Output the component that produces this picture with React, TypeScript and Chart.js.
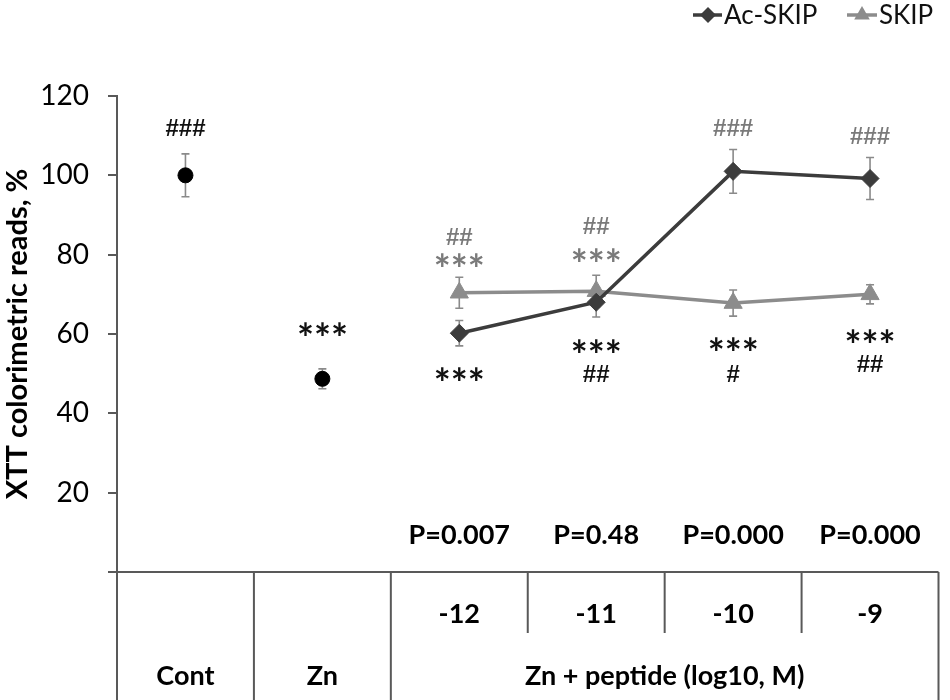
import React, { useEffect, useRef } from 'react';
import { Chart, registerables } from 'chart.js';

Chart.register(...registerables);

// ---------- data ----------
const categories = ['Cont', 'Zn', '-12', '-11', '-10', '-9'];
const subLabels = ['', '', '-12', '-11', '-10', '-9'];
const groupLabels = ['Cont', 'Zn', 'Zn + peptide (log10, M)'];
const groupSpans = [1, 1, 4];

const controlValues = [100, 48.7, null, null, null, null];
const controlErrors = [5.4, 2.5, 0, 0, 0, 0];
const acSkipValues = [null, null, 60.2, 68.0, 101.0, 99.2];
const acSkipErrors = [0, 0, 3.2, 3.7, 5.5, 5.3];
const skipValues = [null, null, 70.4, 70.8, 67.8, 70.0];
const skipErrors = [0, 0, 3.9, 4.0, 3.3, 2.4];

const pValues = ['', '', 'P=0.007', 'P=0.48', 'P=0.000', 'P=0.000'];
const pValueLevel = 9.3;

// significance marks: category index, y level, text, tone
const markCats = [0, 1, 2, 2, 2, 3, 3, 3, 3, 4, 4, 4, 5, 5, 5];
const markLevels = [112, 60.8, 84.6, 78.2, 49.4, 87.5, 79.4, 56.5, 50.2, 112, 57.0, 50.2, 110, 59.1, 52.5];
const markTexts = ['###', '***', '##', '***', '***', '##', '***', '***', '##', '###', '***', '#', '###', '***', '##'];
const markTones = ['k', 'k', 'g', 'g', 'k', 'g', 'g', 'k', 'k', 'g', 'k', 'k', 'g', 'k', 'k'];

const legendLabels = ['Ac-SKIP', 'SKIP'];
const yTitle = 'XTT colorimetric reads, %';

// ---------- styles ----------
const DARK = '#3c3c3c';
const GRAY = '#8c8c8c';
const AXIS = '#595959';
const ERR = '#8a8a8a';
const FONT = 'Lato, "Open Sans", sans-serif';
const HASHFONT = '"Liberation Sans", Arial, sans-serif';

const errorSets = [acSkipErrors, skipErrors, controlErrors];

const errorBarPlugin = {
  id: 'errorBars',
  beforeDatasetsDraw(chart: any) {
    const { ctx } = chart;
    const xs = chart.scales.x;
    const ys = chart.scales.y;
    ctx.save();
    ctx.strokeStyle = ERR;
    ctx.lineWidth = 1.6;
    chart.data.datasets.forEach((ds: any, d: number) => {
      const errs = errorSets[d];
      ds.data.forEach((v: number | null, i: number) => {
        if (v === null || !errs[i]) return;
        const px = xs.getPixelForValue(i);
        const t = ys.getPixelForValue(v + errs[i]);
        const b = ys.getPixelForValue(v - errs[i]);
        ctx.beginPath();
        ctx.moveTo(px, t); ctx.lineTo(px, b);
        ctx.moveTo(px - 4, t); ctx.lineTo(px + 4, t);
        ctx.moveTo(px - 4, b); ctx.lineTo(px + 4, b);
        ctx.stroke();
      });
    });
    ctx.restore();
  },
};

const marksPlugin = {
  id: 'marks',
  afterDatasetsDraw(chart: any) {
    const { ctx } = chart;
    const xs = chart.scales.x;
    const ys = chart.scales.y;
    ctx.save();
    ctx.textAlign = 'center';
    ctx.textBaseline = 'alphabetic';
    markTexts.forEach((t, k) => {
      const px = xs.getPixelForValue(markCats[k]);
      const py = ys.getPixelForValue(markLevels[k]);
      ctx.fillStyle = markTones[k] === 'k' ? '#111' : '#7a7a7a';
      if (t[0] === '#') {
        const size = 24;
        ctx.font = `bold ${size}px ${HASHFONT}`;
        (ctx as any).letterSpacing = '0px';
        ctx.fillText(t, px, py + 0.36 * size);
      } else {
        const size = 40;
        ctx.font = `bold ${size}px ${FONT}`;
        (ctx as any).letterSpacing = '0px';
        ctx.fillText(t, px, py + 0.55 * size);
      }
    });
    (ctx as any).letterSpacing = '0px';
    // P values
    ctx.fillStyle = '#000';
    ctx.font = `bold 27px ${FONT}`;
    ctx.textBaseline = 'middle';
    pValues.forEach((p, i) => {
      if (!p) return;
      ctx.fillText(p, xs.getPixelForValue(i), ys.getPixelForValue(pValueLevel));
    });
    ctx.restore();
  },
};

const tablePlugin = {
  id: 'categoryTable',
  afterDraw(chart: any) {
    const { ctx, chartArea } = chart;
    const { left, right, top, bottom } = chartArea;
    const xs = chart.scales.x;
    const n = categories.length;
    const colW = (right - left) / n;
    const H = chart.height;
    ctx.save();
    ctx.strokeStyle = AXIS;
    ctx.lineWidth = 2;
    ctx.beginPath();
    ctx.moveTo(left, bottom);
    ctx.lineTo(right, bottom);
    const fullAt = new Set<number>([0]);
    let acc = 0;
    groupSpans.forEach((s) => { acc += s; fullAt.add(acc); });
    for (let i = 0; i <= n; i++) {
      const bx = left + i * colW;
      ctx.moveTo(bx, bottom);
      ctx.lineTo(bx, fullAt.has(i) ? H : bottom + 61);
    }
    ctx.stroke();

    ctx.fillStyle = '#000';
    ctx.font = `bold 27px ${FONT}`;
    ctx.textAlign = 'center';
    ctx.textBaseline = 'middle';
    subLabels.forEach((s, i) => {
      if (!s) return;
      ctx.fillText(s, xs.getPixelForValue(i), bottom + 42);
    });
    let start = 0;
    groupLabels.forEach((g, k) => {
      const end = start + groupSpans[k];
      const cx = (xs.getPixelForValue(start) + xs.getPixelForValue(end - 1)) / 2;
      ctx.fillText(g, cx, bottom + 104);
      start = end;
    });

    // y axis title
    ctx.save();
    ctx.translate(18, (top + bottom) / 2);
    ctx.rotate(-Math.PI / 2);
    ctx.font = `bold 29px ${FONT}`;
    ctx.textBaseline = 'middle';
    ctx.fillText(yTitle, 0, 0);
    ctx.restore();
    ctx.restore();
  },
};

const legendPlugin = {
  id: 'topLegend',
  afterDraw(chart: any) {
    const { ctx } = chart;
    const y = 15;
    ctx.save();
    ctx.font = `26px ${FONT}`;
    ctx.textBaseline = 'middle';
    ctx.textAlign = 'left';
    const items = [
      { x0: 693, x1: 722, cx: 708, color: DARK, shape: 'diamond' },
      { x0: 847, x1: 877, cx: 862, color: GRAY, shape: 'triangle' },
    ];
    items.forEach((it, k) => {
      ctx.strokeStyle = it.color;
      ctx.fillStyle = it.color;
      ctx.lineWidth = 3.5;
      ctx.beginPath();
      ctx.moveTo(it.x0, y);
      ctx.lineTo(it.x1, y);
      ctx.stroke();
      ctx.beginPath();
      if (it.shape === 'diamond') {
        const r = 8;
        ctx.moveTo(it.cx - r, y); ctx.lineTo(it.cx, y - r); ctx.lineTo(it.cx + r, y); ctx.lineTo(it.cx, y + r);
      } else {
        const r = 9;
        ctx.moveTo(it.cx, y - r); ctx.lineTo(it.cx + r * 0.866, y + r / 2); ctx.lineTo(it.cx - r * 0.866, y + r / 2);
      }
      ctx.closePath();
      ctx.fill();
      ctx.fillStyle = '#111';
      ctx.fillText(legendLabels[k], it.x1 + 2, y + 1);
    });
    ctx.restore();
  },
};

export default function App() {
  const ref = useRef<HTMLCanvasElement>(null);
  useEffect(() => {
    if (!ref.current) return;
    const chart = new Chart(ref.current, {
      type: 'line',
      data: {
        labels: categories,
        datasets: [
          {
            label: legendLabels[0],
            data: acSkipValues,
            borderColor: DARK,
            backgroundColor: DARK,
            pointBackgroundColor: DARK,
            pointBorderColor: DARK,
            pointStyle: 'rectRot',
            pointRadius: 9,
            pointBorderWidth: 1,
            borderWidth: 3.5,
            order: 1,
          },
          {
            label: legendLabels[1],
            data: skipValues,
            borderColor: GRAY,
            backgroundColor: GRAY,
            pointBackgroundColor: GRAY,
            pointBorderColor: GRAY,
            pointStyle: 'triangle',
            pointRadius: 10.5,
            pointBorderWidth: 1,
            borderWidth: 3.5,
            order: 2,
          },
          {
            label: 'Control',
            data: controlValues,
            showLine: false,
            pointStyle: 'circle',
            pointRadius: 7.5,
            pointBackgroundColor: '#000',
            pointBorderColor: '#000',
            order: 0,
          },
        ],
      } as any,
      options: {
        responsive: false,
        animation: false,
        layout: { padding: { top: 96, right: 6, bottom: 128, left: 0 } },
        plugins: { legend: { display: false }, tooltip: { enabled: false } },
        scales: {
          x: { type: 'category', offset: true, display: false },
          y: {
            min: 0,
            max: 120,
            afterFit: (s: any) => { s.width = 117; },
            ticks: {
              stepSize: 20,
              padding: 19,
              color: '#000',
              font: { family: FONT, size: 28 },
              callback: (v: any) => (v === 0 ? '' : String(v)),
            },
            grid: { drawOnChartArea: false, tickLength: 9, color: AXIS, lineWidth: 2 },
            border: { color: AXIS, width: 2 },
          },
        },
      } as any,
      plugins: [errorBarPlugin, marksPlugin, tablePlugin, legendPlugin],
    });
    return () => chart.destroy();
  }, []);
  return (
    <div style={{ position: 'fixed', left: 0, top: 0, width: 950, height: 700, background: '#fff' }}>
      <canvas ref={ref} width={950} height={700} style={{ display: 'block' }} />
    </div>
  );
}
